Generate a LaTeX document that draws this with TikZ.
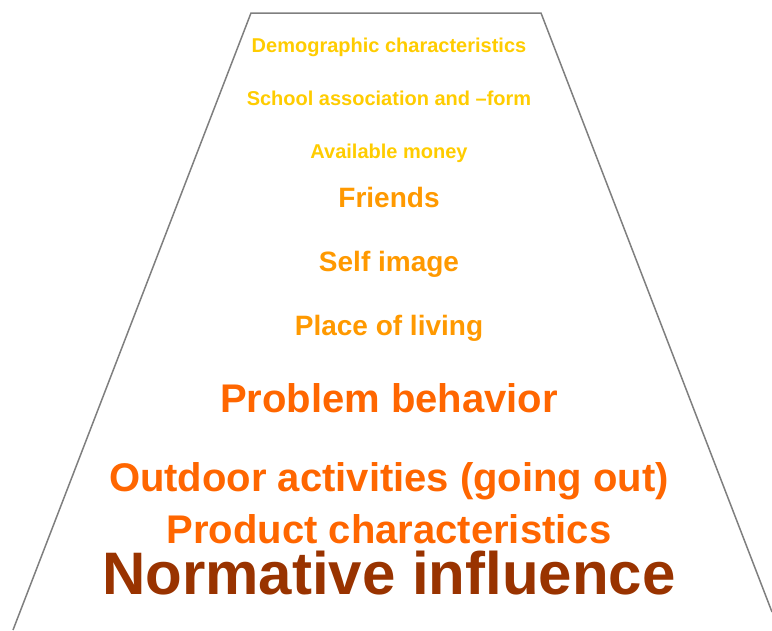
\documentclass[tikz,border=0pt]{standalone}
\usepackage{fontspec}
\setmainfont{Liberation Sans}
\usepackage{xcolor}
\usepackage{tikz}
\usetikzlibrary{positioning}
\definecolor{figYellow}{HTML}{FFCC00}
\definecolor{figAmber}{HTML}{FF9900}
\definecolor{figOrange}{HTML}{FF6600}
\definecolor{figBrown}{HTML}{993300}
\definecolor{figGray}{HTML}{7F7F7F}

\begin{document}
\begin{tikzpicture}[
  x=1pt, y=-1pt,
  every node/.style={font=\bfseries, anchor=base, inner sep=0pt},
  factor/.style={font=\bfseries\fontsize{#1}{#1}\selectfont},
  small/.style={factor=20, text=figYellow},
  medium/.style={factor=28, text=figAmber},
  large/.style={factor=40, text=figOrange},
  huge/.style={factor=60, text=figBrown},
]
\useasboundingbox (0,0) rectangle (772,630);

% === Funnel outline ===
\draw[figGray, line width=1.5pt] (13,630) -- (251,13) -- (541,13) -- (772,612);

% === Weak factors ===
\node[small] (demo) at (389,52) {Demographic characteristics};
\node[small] (school) at (389,105) {School association and –form};
\node[small] (money) at (389,158) {Available money};

% === Middle factors ===
\node[medium] (friends) at (389,207) {Friends};
\node[medium] (self) at (389,271) {Self image};
\node[medium] (place) at (389,335) {Place of living};

% === Strong factors ===
\node[large] (problem) at (389,412) {Problem behavior};
\node[large] (outdoor) at (389,491) {Outdoor activities (going out)};
\node[large] (product) at (389,543) {Product characteristics};
\node[huge] (norm) at (389,594) {Normative influence};

\end{tikzpicture}
\end{document}
